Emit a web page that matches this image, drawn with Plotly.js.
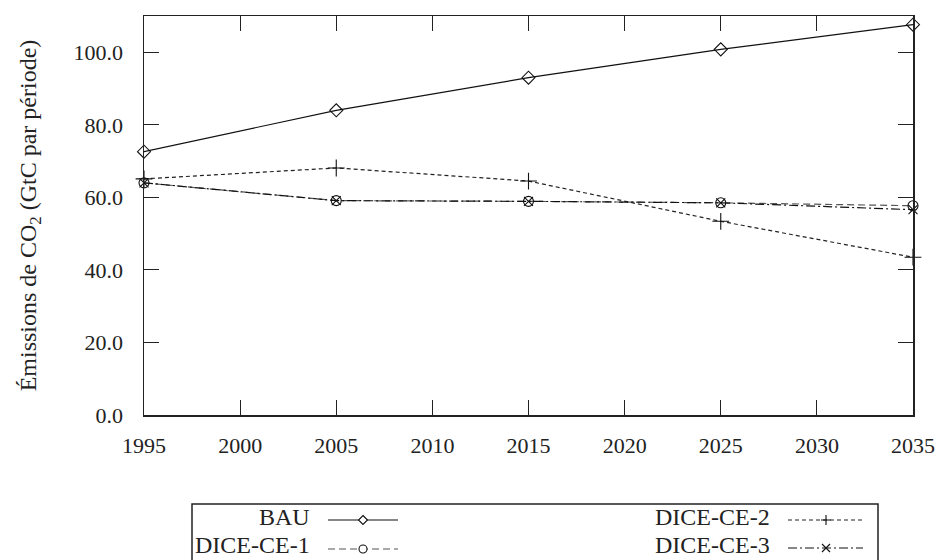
<!DOCTYPE html>
<html>
<head>
<meta charset="utf-8">
<script src="https://cdn.plot.ly/plotly-3.0.1.min.js"></script>
<style>html,body{margin:0;padding:0;background:#fff;}#chart{width:941px;height:560px;}</style>
</head>
<body>
<div id="chart"></div>
<script>
const years = [1995, 2005, 2015, 2025, 2035];
const bau = [72.6, 84.0, 93.0, 100.8, 107.6];
const ce1 = [64.0, 59.1, 58.9, 58.5, 57.7];
const ce2 = [65.1, 68.1, 64.5, 53.4, 43.5];
const ce3 = [64.0, 59.1, 58.9, 58.5, 56.6];
const seriesNames = ['BAU', 'DICE-CE-1', 'DICE-CE-2', 'DICE-CE-3'];
const xTicks = [1995, 2000, 2005, 2010, 2015, 2020, 2025, 2030, 2035];
const yTicks = [0, 20, 40, 60, 80, 100];

const FONT = 'Liberation Serif';

const styles = {
  'BAU':       {dash: 'solid',        color: '#111', symbol: 'diamond-open', size: 10},
  'DICE-CE-1': {dash: '7px,4px',      color: '#555', symbol: 'circle-open',  size: 10},
  'DICE-CE-2': {dash: '4px,3px',      color: '#222', symbol: 'cross-thin-open', size: 12},
  'DICE-CE-3': {dash: '9px,3px,2px,3px', color: '#111', symbol: 'x-thin-open', size: 9}
};
const values = {'BAU': bau, 'DICE-CE-1': ce1, 'DICE-CE-2': ce2, 'DICE-CE-3': ce3};

const traces = seriesNames.map(n => ({
  x: years, y: values[n], name: n, type: 'scatter', mode: 'lines+markers',
  line: {color: styles[n].color, width: 1.2, dash: styles[n].dash},
  marker: {symbol: styles[n].symbol, size: styles[n].size, color: '#111', line: {color: '#111', width: 1.1}},
  showlegend: false, cliponaxis: false
}));

// manual legend (text left of symbol)
const L = 144, W = 769, T = 16, H = 399;
const px = v => (v - L) / W;
const py = v => (T + H - v) / H;
const shapes = [{type: 'rect', xref: 'paper', yref: 'paper', x0: px(192), x1: px(878), y0: py(504), y1: py(566),
  line: {color: '#222', width: 1.5}, fillcolor: 'rgba(0,0,0,0)'}];
const annotations = [];
const legendPos = {
  'BAU':       {tx: 312, l0: 328, l1: 398, m: 363, ty: 517, y: 520},
  'DICE-CE-1': {tx: 312, l0: 328, l1: 398, m: 363, ty: 545, y: 549},
  'DICE-CE-2': {tx: 772, l0: 788, l1: 863, m: 826, ty: 517, y: 520},
  'DICE-CE-3': {tx: 772, l0: 788, l1: 863, m: 826, ty: 545, y: 548}
};
const markerPaths = {
  'BAU': 'M0,4.5L4.5,0L0,-4.5L-4.5,0Z',
  'DICE-CE-1': null,
  'DICE-CE-2': 'M-5,0H5M0,-5V5',
  'DICE-CE-3': 'M-4,-4L4,4M-4,4L4,-4'
};
seriesNames.forEach(n => {
  const p = legendPos[n];
  annotations.push({xref: 'paper', yref: 'paper', x: px(p.tx), y: py(p.ty), xanchor: 'right', yanchor: 'middle',
    text: n, showarrow: false, font: {family: FONT, size: 24, color: '#222'}});
  shapes.push({type: 'line', xref: 'paper', yref: 'paper', x0: px(p.l0), x1: px(p.l1), y0: py(p.y), y1: py(p.y),
    line: {color: styles[n].color, width: 1.2, dash: styles[n].dash}});
  if (markerPaths[n]) {
    shapes.push({type: 'path', xref: 'paper', yref: 'paper', xsizemode: 'pixel', ysizemode: 'pixel',
      xanchor: px(p.m), yanchor: py(p.y), path: markerPaths[n],
      fillcolor: n === 'BAU' ? '#fff' : 'rgba(0,0,0,0)', line: {color: '#111', width: 1.1}});
  } else {
    shapes.push({type: 'circle', xref: 'paper', yref: 'paper', xsizemode: 'pixel', ysizemode: 'pixel',
      xanchor: px(p.m), yanchor: py(p.y), x0: -4, x1: 4, y0: -4, y1: 4,
      fillcolor: '#fff', line: {color: '#111', width: 1.1}});
  }
});

const layout = {
  width: 941, height: 560,
  margin: {l: L, r: 941 - L - W, t: T, b: 560 - T - H},
  paper_bgcolor: '#fff', plot_bgcolor: '#fff',
  font: {family: FONT, size: 22, color: '#222'},
  xaxis: {
    range: [1995, 2035], tickvals: xTicks, ticktext: xTicks.map(String),
    ticks: 'inside', ticklen: 15, tickwidth: 1, tickcolor: '#222',
    showline: true, linecolor: '#222', linewidth: 1.5, mirror: 'ticks',
    showgrid: false, zeroline: false, tickfont: {family: FONT, size: 22, color: '#222'},
    ticklabelstandoff: 10
  },
  yaxis: {
    range: [0, 110], tickvals: yTicks, ticktext: yTicks.map(v => v.toFixed(1)),
    ticks: 'inside', ticklen: 15, tickwidth: 1, tickcolor: '#222',
    showline: true, linecolor: '#222', linewidth: 1.5, mirror: 'ticks',
    showgrid: false, zeroline: false, tickfont: {family: FONT, size: 22, color: '#222'},
    ticklabelstandoff: 15,
    title: {text: 'Émissions de CO<sub>2</sub> (GtC par période)', font: {family: FONT, size: 24, color: '#222'}, standoff: 30}
  },
  shapes: shapes,
  annotations: annotations,
  showlegend: false
};

Plotly.newPlot('chart', traces, layout, {displayModeBar: false, staticPlot: true});
</script>
</body>
</html>
